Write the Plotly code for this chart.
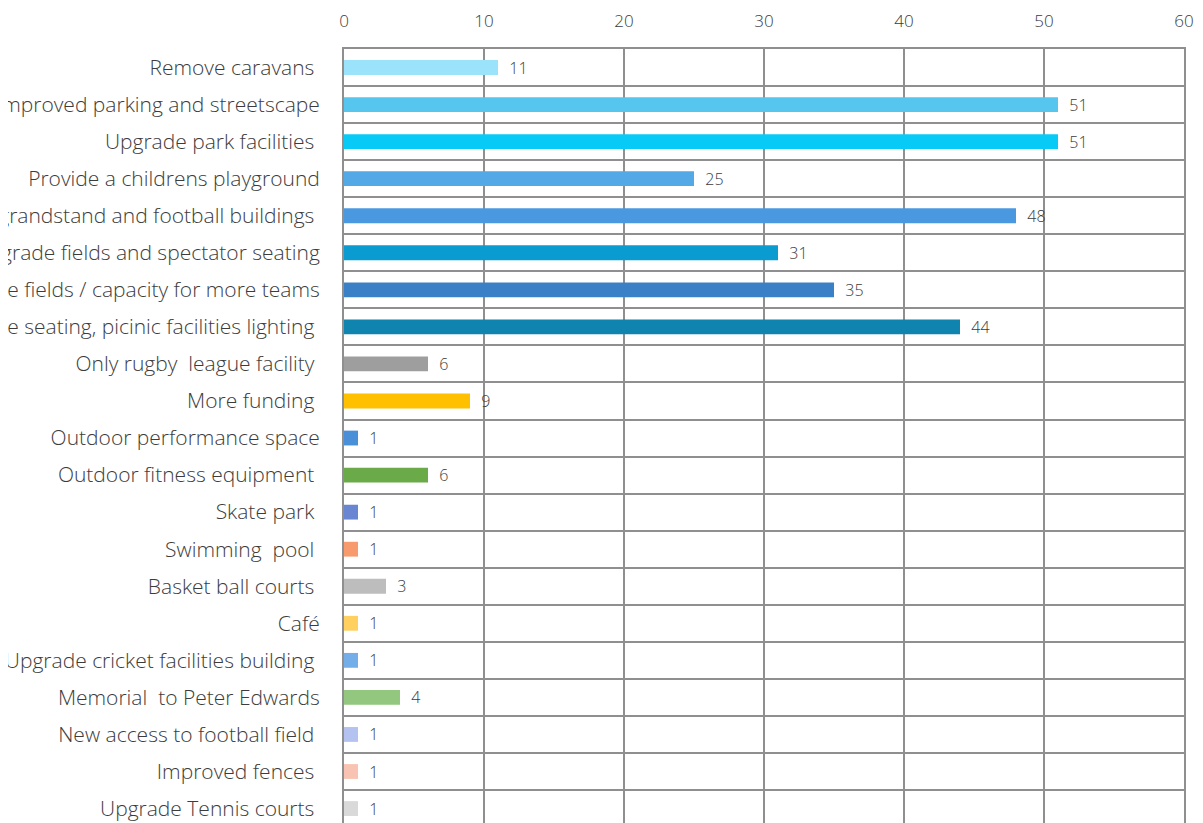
import plotly.graph_objects as go

categories = [
    "Remove caravans ",
    "Improved parking and streetscape",
    "Upgrade park facilities ",
    "Provide a childrens playground",
    "Upgrade grandstand and football buildings ",
    "Upgrade fields and spectator seating",
    "More fields / capacity for more teams",
    "More seating, picinic facilities lighting ",
    "Only rugby  league facility ",
    "More funding ",
    "Outdoor performance space",
    "Outdoor fitness equipment ",
    "Skate park ",
    "Swimming  pool ",
    "Basket ball courts ",
    "Café",
    "Upgrade cricket facilities building ",
    "Memorial  to Peter Edwards",
    "New access to football field ",
    "Improved fences ",
    "Upgrade Tennis courts ",
]
values = [11, 51, 51, 25, 48, 31, 35, 44, 6, 9, 1, 6, 1, 1, 3, 1, 1, 4, 1, 1, 1]
colors = [
    "#9BE3FB", "#56C6EE", "#08CAF7", "#53A8E6", "#4A98E0", "#0A9BD0", "#3A80C6",
    "#0F84AE", "#9E9E9E", "#FFC000", "#4A90D9", "#6AAA48", "#6A86D2", "#F79A6E",
    "#BDBDBD", "#FFD060", "#74AEE8", "#93C67E", "#B3C2EE", "#F8C3B2", "#D9D9D9",
]
x_ticks = [0, 10, 20, 30, 40, 50, 60]

FONT = "Open Sans"
TXT = "#3c3c3c"
GRID = "#8f8f8f"

fig = go.Figure(
    go.Bar(
        x=values,
        y=categories,
        orientation="h",
        marker=dict(color=colors, line=dict(width=0)),
        width=0.4,
        text=values,
        texttemplate="  %{x}",
        textposition="outside",
        constraintext="none",
        cliponaxis=False,
        textfont=dict(family=FONT, size=16, color=TXT, weight=300),
    )
)

fig.update_layout(
    width=1195,
    height=815,
    margin=dict(l=336, r=19, t=41, b=0, autoexpand=False),
    paper_bgcolor="white",
    plot_bgcolor="white",
    showlegend=False,
    font=dict(family=FONT, color=TXT, weight=300),
    xaxis=dict(
        side="top",
        range=[0, 60],
        tickvals=x_ticks,
        ticktext=[str(v) for v in x_ticks],
        showgrid=True,
        gridcolor=GRID,
        gridwidth=2,
        showline=True,
        linecolor=GRID,
        linewidth=2,
        zeroline=False,
        ticks="",
        ticklabelstandoff=13,
        tickfont=dict(family=FONT, size=17, color=TXT, weight=300),
    ),
    yaxis=dict(
        type="category",
        categoryorder="array",
        categoryarray=categories,
        range=[20.39, -0.5],
        tickson="boundaries",
        showgrid=True,
        gridcolor=GRID,
        gridwidth=2,
        showline=True,
        mirror=True,
        linecolor=GRID,
        linewidth=2,
        zeroline=False,
        ticks="",
        automargin=False,
        ticklabelstandoff=18,
        tickfont=dict(family=FONT, size=21, color=TXT, weight=300),
    ),
)

fig.write_html("out.html")
